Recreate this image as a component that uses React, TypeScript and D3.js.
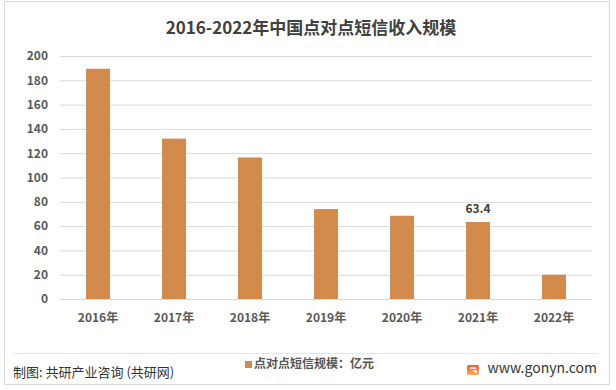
import React, { useRef, useEffect } from "react";
import * as d3 from "d3";

// data
const years = ["2016年", "2017年", "2018年", "2019年", "2020年", "2021年", "2022年"];
const revenue = [189.5, 132, 116.5, 74, 68.5, 63.4, 20];
const labelled = ["2021年"];
const yTicks = [0, 20, 40, 60, 80, 100, 120, 140, 160, 180, 200];

const title = "2016-2022年中国点对点短信收入规模";
const legendText = "点对点短信规模：亿元";
const sourceText = "制图: 共研产业咨询 (共研网)";
const siteText = "www.gonyn.com";

const W = 616;
const H = 390;
const margin = { top: 56, right: 24, bottom: 91, left: 60 };
const FONT = "'Noto Sans CJK SC', 'Noto Sans', sans-serif";

const App = () => {
  const svgRef = useRef(null);
  const gridRef = useRef(null);
  const yAxisRef = useRef(null);
  const xAxisRef = useRef(null);
  const barsRef = useRef(null);

  const innerW = W - margin.left - margin.right;
  const innerH = H - margin.top - margin.bottom;

  const x = d3.scaleBand().domain(years).range([0, innerW]).paddingInner(0.684).paddingOuter(0.342);
  const y = d3.scaleLinear().domain([0, 200]).range([innerH, 0]);

  useEffect(() => {
    // gridlines
    d3.select(gridRef.current)
      .selectAll("line")
      .data(yTicks)
      .join("line")
      .attr("x1", 0)
      .attr("x2", innerW)
      .attr("y1", (d) => y(d) + 0.5)
      .attr("y2", (d) => y(d) + 0.5)
      .attr("stroke", "#d9d9d9")
      .attr("stroke-width", 1);

    // y axis
    const yAxis = d3.select(yAxisRef.current)
      .call(d3.axisLeft(y).tickValues(yTicks).tickSize(0).tickPadding(12));
    yAxis.select(".domain").remove();
    yAxis.selectAll("text")
      .attr("font-family", FONT)
      .attr("font-size", 12)
      .attr("font-weight", "bold")
      .attr("fill", "#595959");

    // x axis
    const xAxis = d3.select(xAxisRef.current)
      .attr("transform", "translate(0," + innerH + ")")
      .call(d3.axisBottom(x).tickSize(0).tickPadding(14));
    xAxis.select(".domain").remove();
    xAxis.selectAll("text")
      .attr("font-family", FONT)
      .attr("font-size", 12)
      .attr("font-weight", "bold")
      .attr("fill", "#595959");

    // bars
    const body = d3.select(barsRef.current);
    body.selectAll("rect")
      .data(revenue)
      .join("rect")
      .attr("x", (d, i) => x(years[i]))
      .attr("width", x.bandwidth())
      .attr("y", (d) => y(d))
      .attr("height", (d) => innerH - y(d))
      .attr("fill", "#d38b4d");

    body.selectAll("text")
      .data(revenue.filter((d, i) => labelled.includes(years[i])))
      .join("text")
      .attr("x", (d) => x(years[revenue.indexOf(d)]) + x.bandwidth() / 2)
      .attr("y", (d) => y(d) - 9)
      .attr("text-anchor", "middle")
      .attr("font-family", FONT)
      .attr("font-size", 12)
      .attr("font-weight", "bold")
      .attr("fill", "#404040")
      .text((d) => d);
  }, [svgRef.current]);

  return (
    <svg ref={svgRef} width={W} height={H} style={{ position: "absolute", left: 0, top: 0 }}>
      <rect x={0} y={0} width={W} height={H} fill="#ffffff" />
      <rect x={4.5} y={1.5} width={605} height={383} fill="none" stroke="#d9d9d9" strokeWidth={1} />
      <text x={311} y={34} textAnchor="middle" fontFamily={FONT} fontSize={17} fontWeight="bold" fill="#404040">
        {title}
      </text>
      <g transform={`translate(${margin.left},${margin.top})`}>
        <g ref={gridRef}></g>
        <g ref={yAxisRef}></g>
        <g ref={xAxisRef}></g>
        <g ref={barsRef}></g>
      </g>
      <line x1={13} x2={598} y1={353.5} y2={353.5} stroke="#e6e6e6" strokeWidth={1} />
      <text x={13} y={377} fontFamily={FONT} fontSize={13} fill="#333">{sourceText}</text>
      <rect x={245} y={361} width={7} height={7} fill="#d38b4d" />
      <text x={254} y={368} fontFamily={FONT} fontSize={12} fontWeight="bold" fill="#555">{legendText}</text>
      <defs>
        <linearGradient id="logoGrad" x1="0" y1="0" x2="0" y2="1">
          <stop offset="0%" stopColor="#f25a2a" />
          <stop offset="100%" stopColor="#f9b25a" />
        </linearGradient>
      </defs>
      <g transform="translate(467,365)">
        <rect x={0} y={0} width={12} height={10} rx={1.5} fill="url(#logoGrad)" />
        <path d="M3,3 H9 M6,6 H9 V8" stroke="#fff" strokeWidth={1.4} fill="none" />
      </g>
      <text x={597} y={373} textAnchor="end" fontFamily={FONT} fontSize={14} fill="#333">{siteText}</text>
    </svg>
  );
};

export default App;
